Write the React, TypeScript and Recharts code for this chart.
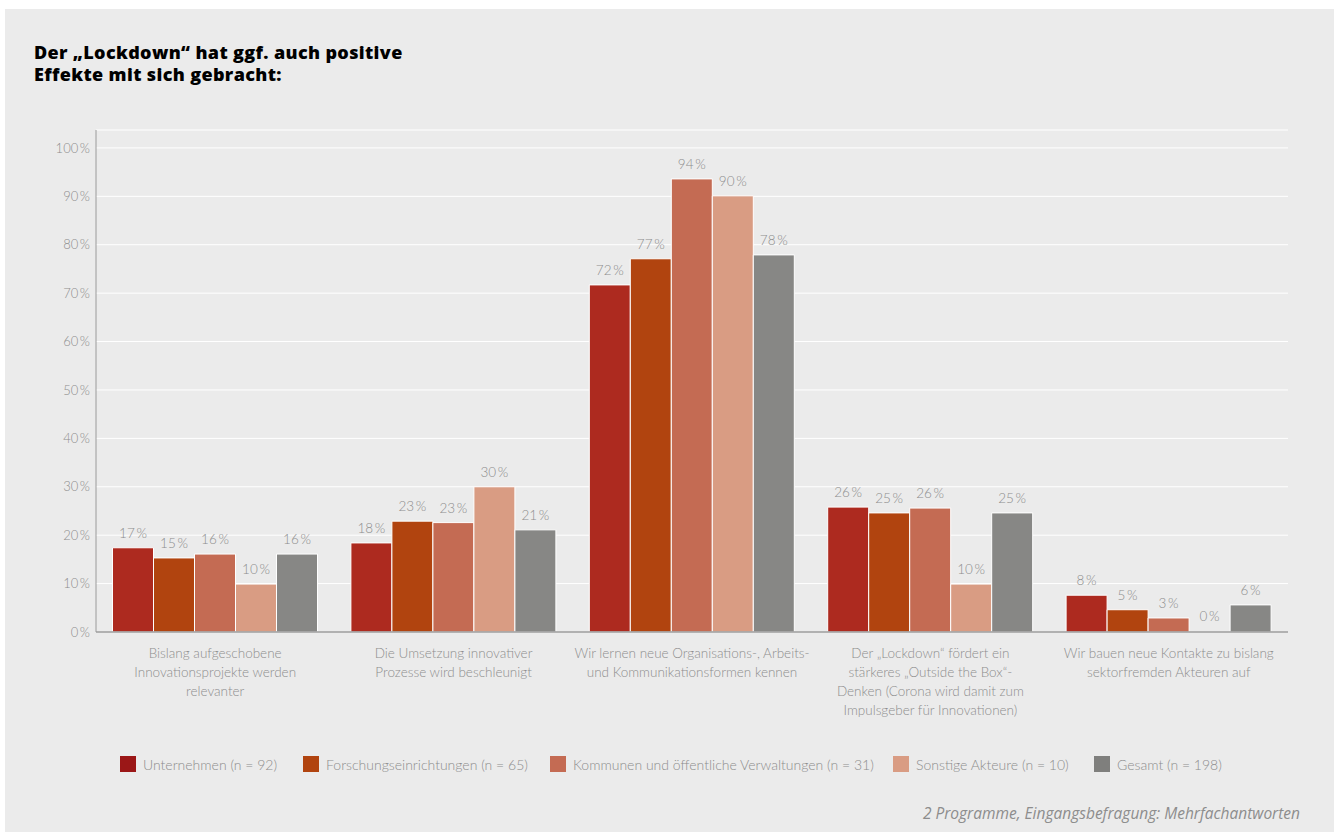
import React from 'react';
import { BarChart, Bar, XAxis, YAxis, CartesianGrid, LabelList, Rectangle } from 'recharts';

const categories = [
  'Bislang aufgeschobene\nInnovationsprojekte werden\nrelevanter',
  'Die Umsetzung innovativer\nProzesse wird beschleunigt',
  'Wir lernen neue Organisations-, Arbeits-\nund Kommunikationsformen kennen',
  'Der „Lockdown“ fördert ein\nstärkeres „Outside the Box“-\nDenken (Corona wird damit zum\nImpulsgeber für Innovationen)',
  'Wir bauen neue Kontakte zu bislang\nsektorfremden Akteuren auf',
];

const unternehmen = [17.4, 18.4, 71.7, 25.8, 7.6];
const forschung = [15.3, 22.9, 77.1, 24.6, 4.6];
const kommunen = [16.1, 22.6, 93.6, 25.6, 2.9];
const sonstige = [9.9, 30.0, 90.1, 9.9, 0];
const gesamt = [16.1, 21.1, 77.9, 24.6, 5.6];

const seriesNames = [
  'Unternehmen (n = 92)',
  'Forschungseinrichtungen (n = 65)',
  'Kommunen und öffentliche Verwaltungen (n = 31)',
  'Sonstige Akteure (n = 10)',
  'Gesamt (n = 198)',
];
const seriesKeys = ['u', 'f', 'k', 's', 'g'];
const seriesColors = ['#AD2A1F', '#B1440F', '#C46B53', '#D99C83', '#878785'];
const legendColors = ['#9B1717', '#B1440F', '#C46B53', '#D99C83', '#7F7F7D'];

const yTicks = [0, 10, 20, 30, 40, 50, 60, 70, 80, 90, 100];

const titleLines = ['Der „Lockdown“ hat ggf. auch positive', 'Effekte mit sich gebracht:'];
const footnote = '2 Programme, Eingangsbefragung: Mehrfachantworten';

const data = categories.map((cat, i) => ({
  cat,
  u: unternehmen[i],
  f: forschung[i],
  k: kommunen[i],
  s: sonstige[i],
  g: gesamt[i],
}));

const FONT = 'Lato, "Open Sans", sans-serif';
const GRAY_TEXT = '#8d8d8d';

const pct = (v: any) => `${Math.round(Number(v))}\u2009%`;

const XTick = (props: any) => {
  const { x, y, payload } = props;
  const lines = String(payload.value).split('\n');
  return (
    <text x={x} y={y} textAnchor="middle" fill={GRAY_TEXT} fontSize={13.5} fontFamily={FONT} fontWeight={300}>
      {lines.map((l, i) => (
        <tspan key={i} x={x} dy={i === 0 ? 24 : 19}>
          {l}
        </tspan>
      ))}
    </text>
  );
};

const ValueLabel = (props: any) => {
  const { x, y, width, value } = props;
  if (value == null) return null;
  return (
    <text
      x={Number(x) + Number(width) / 2}
      y={Number(y) - 10}
      textAnchor="middle"
      fill={GRAY_TEXT}
      fontSize={13.5}
      fontFamily={FONT}
      fontWeight={300}
    >
      {pct(value)}
    </text>
  );
};

// Bars whose value is 0 keep their (label) slot but draw no rectangle
const BarShape = (props: any) => {
  const v = Array.isArray(props.value) ? props.value[1] - props.value[0] : props.value;
  if (Number(v) === 0) return <g />;
  return <Rectangle {...props} />;
};

const minSize = (value: any) => (Number(value) === 0 ? 1 : 0);

const legendX = [120, 303, 550, 893, 1094];

export default function App() {
  return (
    <div style={{ position: 'absolute', left: 0, top: 0, width: 1338, height: 832, background: '#fff', overflow: 'hidden' }}>
      <div style={{ position: 'absolute', left: 5, top: 9, width: 1329, height: 823, background: '#EBEBEB' }} />
      <div
        style={{
          position: 'absolute',
          left: 34,
          top: 41,
          fontFamily: '"Open Sans", Lato, sans-serif',
          fontWeight: 800,
          fontSize: 18,
          letterSpacing: '0.35px',
          lineHeight: '22px',
          color: '#000',
        }}
      >
        {titleLines.map((t, i) => (
          <div key={i} style={{ height: 22 }}>{t}</div>
        ))}
      </div>
      <div style={{ position: 'absolute', left: 0, top: 0 }}>
        <BarChart
          width={1338}
          height={832}
          data={data}
          margin={{ top: 130, right: 50, bottom: 0, left: 0 }}
          barCategoryGap={16.5}
          barGap={0}
        >
          <CartesianGrid horizontal vertical={false} stroke="#ffffff" strokeWidth={1} />
          <XAxis
            dataKey="cat"
            height={200}
            axisLine={{ stroke: '#9a9a9a', strokeWidth: 1.5 }}
            tickLine={false}
            tickSize={0}
            tick={<XTick />}
            interval={0}
          />
          <YAxis
            width={96}
            domain={[0, 103.7]}
            ticks={yTicks}
            axisLine={{ stroke: '#9a9a9a', strokeWidth: 1 }}
            tickLine={false}
            tickSize={0}
            tickMargin={6}
            tickFormatter={pct}
            tick={{ fill: GRAY_TEXT, fontSize: 13, fontFamily: FONT, fontWeight: 300 }}
          />
          {seriesKeys.map((k, i) => (
            <Bar
              key={k}
              dataKey={k}
              name={seriesNames[i]}
              fill={seriesColors[i]}
              stroke="#ffffff"
              strokeWidth={1}
              minPointSize={minSize}
              shape={BarShape}
              isAnimationActive={false}
            >
              <LabelList dataKey={k} content={<ValueLabel />} />
            </Bar>
          ))}
        </BarChart>
      </div>
      {seriesNames.map((n, i) => (
        <div
          key={n}
          style={{
            position: 'absolute',
            left: legendX[i],
            top: 756,
            height: 16,
            display: 'flex',
            alignItems: 'center',
            fontFamily: FONT,
            fontWeight: 300,
            fontSize: 14,
            color: GRAY_TEXT,
            whiteSpace: 'nowrap',
          }}
        >
          <span style={{ display: 'inline-block', width: 16, height: 16, background: legendColors[i], marginRight: 7 }} />
          <span>{n}</span>
        </div>
      ))}
      <div
        style={{
          position: 'absolute',
          right: 38,
          top: 802,
          fontFamily: '"Open Sans", Lato, sans-serif',
          fontStyle: 'italic',
          fontWeight: 400,
          fontSize: 15.5,
          color: GRAY_TEXT,
          whiteSpace: 'nowrap',
        }}
      >
        {footnote}
      </div>
    </div>
  );
}
